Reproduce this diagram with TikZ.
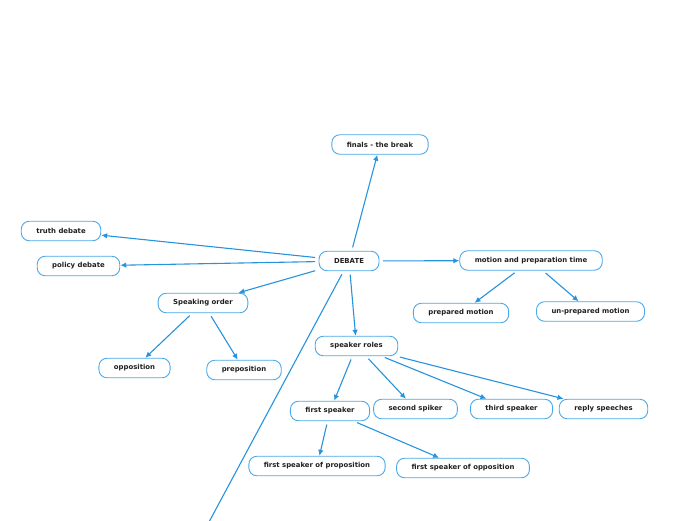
\documentclass[tikz,border=0pt]{standalone}
\usepackage{fontspec}
\setmainfont{DejaVu Sans}
\usetikzlibrary{arrows.meta}
\definecolor{linkblue}{HTML}{2793DD}
\definecolor{rimblue}{HTML}{4BA9E8}
\definecolor{inkgray}{HTML}{202020}

\begin{document}
\begin{tikzpicture}[
    x=1pt, y=-1pt,
    topic/.style={draw=rimblue, line width=0.9pt, rounded corners=8pt,
                  fill=white, text=inkgray, font=\bfseries\fontsize{6.9}{8}\selectfont,
                  inner xsep=15pt, inner ysep=0pt, minimum height=19.5pt},
    flow/.style={-{Latex[length=6pt,width=5.5pt]}, linkblue, line width=1.1pt,
                 shorten <=3.5pt},
]
\useasboundingbox (0,0) rectangle (696,520);

\node[topic] (debate) at (349,261) {DEBATE};
\node[topic] (finals) at (380,144.5) {finals - the break};
\node[topic] (truth) at (61,231) {truth debate};
\node[topic] (policy) at (78.5,266) {policy debate};
\node[topic] (order) at (203,303) {Speaking order};
\node[topic] (opp) at (134.5,368) {opposition};
\node[topic] (prep) at (244,370) {preposition};
\node[topic] (motion) at (531,260.5) {motion and preparation time};
\node[topic] (prepared) at (461,313) {prepared motion};
\node[topic] (unprepared) at (590.5,311.5) {un-prepared motion};
\node[topic] (roles) at (356.5,346) {speaker roles};
\node[topic] (first) at (330,411) {first speaker};
\node[topic] (second) at (415.5,409) {second spiker};
\node[topic] (third) at (511.5,409) {third speaker};
\node[topic] (reply) at (603.5,409) {reply speeches};
\node[topic] (firstprop) at (317,466) {first speaker of proposition};
\node[topic] (firstopp) at (463,468) {first speaker of opposition};
\coordinate (loose) at (209,522);

\draw[flow] (debate) -- (finals);
\draw[flow] (debate) -- (truth);
\draw[flow] (debate) -- (policy);
\draw[flow] (debate) -- (order);
\draw[flow] (debate) -- (motion);
\draw[flow] (debate) -- (roles);
\draw[linkblue, line width=1.1pt, shorten <=3.5pt] (debate) -- (loose);
\draw[flow] (order) -- (opp);
\draw[flow] (order) -- (prep);
\draw[flow] (motion) -- (prepared);
\draw[flow] (motion) -- (unprepared);
\draw[flow] (roles) -- (first);
\draw[flow] (roles) -- (second);
\draw[flow] (roles) -- (third);
\draw[flow] (roles) -- (reply);
\draw[flow] (first) -- (firstprop);
\draw[flow] (first) -- (firstopp);
\end{tikzpicture}
\end{document}
